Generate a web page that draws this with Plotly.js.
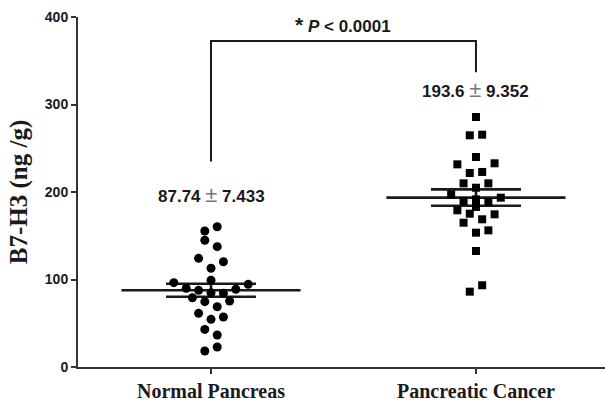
<!DOCTYPE html>
<html>
<head>
<meta charset="utf-8">
<script src="https://cdn.plot.ly/plotly-3.0.1.min.js"></script>
<style>html,body{margin:0;padding:0;background:#fff;}#chart{width:605px;height:410px;}</style>
</head>
<body>
<div id="chart"></div>
<script>
// Categories
const categories = ["Normal Pancreas", "Pancreatic Cancer"];
const categoryPos = [0, 1];

// Individual measurements (ng/g) with horizontal slot index for scatter layout
const normalValues = [160.3, 155.4, 144.8, 137.5, 124.2, 120.3, 112.8, 99.1, 96.4, 94.5, 89.9, 87.6, 88.8, 84.9, 84.2, 79.2, 74.7, 75.4, 68.9, 61.3, 57.1, 54.5, 43.0, 36.6, 22.9, 18.3];
const normalSlots  = [1, -1, -1, 1, -2, 2, 0, 0, -6, 6, -4, -2, 4, 0, 2, -3, -1, 3, 1, -2, 2, 0, -1, 1, 1, -1];

const cancerValues = [285.7, 264.8, 265.5, 240.0, 231.6, 232.8, 221.7, 222.9, 209.9, 204.9, 209.9, 197.3, 193.5, 189.7, 191.6, 188.6, 179.1, 182.9, 175.2, 174.5, 164.9, 168.8, 153.5, 156.2, 132.6, 86.1, 93.4];
const cancerSlots  = [0, -1, 1, 0, -3, 3, -1, 1, -2, 0, 2, -4, 4, -2, 0, 2, -3, 0, -1, 3, -2, 1, 0, 2, 0, -1, 1];

// Summary statistics: mean and SEM
const means = [87.74, 193.6];
const sems = [7.433, 9.352];
const meanLabels = ["87.74", "193.6"];
const semLabels = ["7.433", "9.352"];

// Significance bracket heights (left foot, top, right foot)
const bracketValues = [235, 372.5, 372.5, 337];
const pLabel = "0.0001";

// Axis ticks
const yTicks = [0, 100, 200, 300, 400];

const slotW = 0.0234;
const meanHalf = 0.338;

function xs(center, slots) { return slots.map(s => center + s * slotW); }

const traces = [];
categoryPos.forEach((c, i) => {
  traces.push({
    x: [c - meanHalf, c + meanHalf], y: [means[i], means[i]],
    mode: 'lines', line: {color: '#1a1a1a', width: 2.6}, hoverinfo: 'skip', showlegend: false
  });
});
traces.push({
  x: categoryPos, y: means, mode: 'markers',
  marker: {size: 1, color: 'rgba(0,0,0,0)'},
  error_y: {type: 'data', array: sems, visible: true, color: '#1a1a1a', thickness: 2.6, width: 45},
  hoverinfo: 'skip', showlegend: false
});
traces.push({
  x: xs(categoryPos[0], normalSlots), y: normalValues, mode: 'markers',
  marker: {symbol: 'circle', size: 9, color: '#000'}, showlegend: false
});
traces.push({
  x: xs(categoryPos[1], cancerSlots), y: cancerValues, mode: 'markers',
  marker: {symbol: 'square', size: 8, color: '#000'}, showlegend: false
});
traces.push({
  x: [categoryPos[0], categoryPos[0], categoryPos[1], categoryPos[1]], y: bracketValues,
  mode: 'lines', line: {color: '#1a1a1a', width: 2}, hoverinfo: 'skip', showlegend: false
});

const numFont = {family: 'Liberation Sans, Arial, sans-serif', size: 17, color: '#1a1a1a', weight: 'bold'};
const pm = ' <span style="color:#777;font-weight:normal;font-size:22px">±</span> ';

const annotations = [
  {x: categoryPos[0], y: 197, text: meanLabels[0] + pm + semLabels[0], showarrow: false, font: numFont, xanchor: 'center', yanchor: 'middle'},
  {x: categoryPos[1], y: 317, text: meanLabels[1] + pm + semLabels[1], showarrow: false, font: numFont, xanchor: 'center', yanchor: 'middle'},
  {x: (categoryPos[0] + categoryPos[1]) / 2, y: 391, text: '<span style="font-size:21px">*</span> <i>P</i> &lt; ' + pLabel, showarrow: false, font: numFont, xanchor: 'center', yanchor: 'middle'}
];

const layout = {
  width: 605, height: 410,
  margin: {l: 78, r: 0, t: 17, b: 43},
  paper_bgcolor: '#fff', plot_bgcolor: '#fff',
  showlegend: false,
  xaxis: {
    range: [-0.502, 1.487], tickmode: 'array', tickvals: categoryPos, ticktext: categories,
    showline: true, linecolor: '#333', linewidth: 2, ticks: 'outside', ticklen: 5, tickwidth: 2, tickcolor: '#333',
    showgrid: false, zeroline: false,
    tickfont: {family: 'Liberation Serif, Times New Roman, serif', size: 20, color: '#1a1a1a', weight: 'bold'}
  },
  yaxis: {
    range: [0, 400], tickvals: yTicks,
    showline: true, linecolor: '#333', linewidth: 2, ticks: 'outside', ticklen: 5, tickwidth: 2, tickcolor: '#333',
    showgrid: false, zeroline: false,
    tickfont: {family: 'Liberation Sans, Arial, sans-serif', size: 14, color: '#1a1a1a', weight: 'bold'},
    title: {text: 'B7-H3 (ng /g)', font: {family: 'Liberation Serif, Times New Roman, serif', size: 25, color: '#1a1a1a', weight: 'bold'}, standoff: 10}
  },
  annotations: annotations
};

Plotly.newPlot('chart', traces, layout, {displayModeBar: false, staticPlot: true});
</script>
</body>
</html>
